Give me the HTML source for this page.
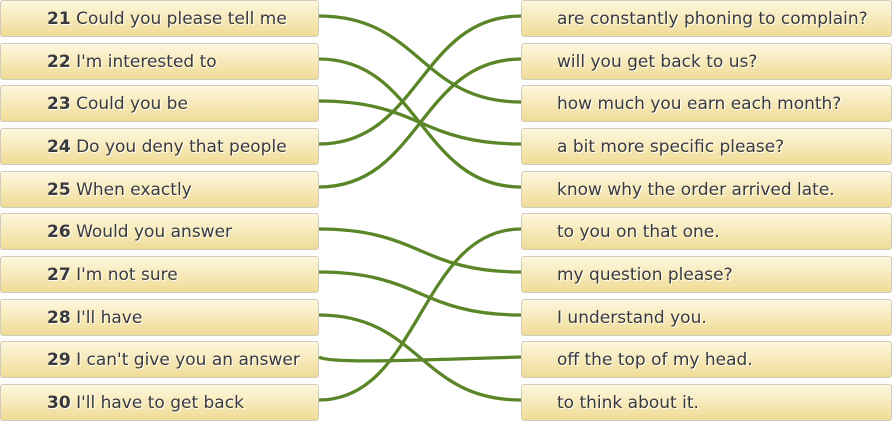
<!DOCTYPE html>
<html><head><style>
body{margin:0;width:893px;height:425px;background:#fff;position:relative;overflow:hidden;font-family:"DejaVu Sans","Liberation Sans",sans-serif;}
.b{position:absolute;height:37px;box-sizing:border-box;border:1px solid #cfcbbd;border-radius:3px;background:linear-gradient(#fdf7dd,#f0dc96);color:#3a3a3a;font-size:17px;line-height:37px;text-shadow:1px 1px 0 #fff;}
.l{left:0;width:319px;padding-left:46px}
.r{left:521px;width:371px;padding-left:35px}
b{font-weight:bold}
svg{position:absolute;left:0;top:0}
</style></head><body>
<div class="b l" style="top:0px"><b>21</b> Could you please tell me</div>
<div class="b l" style="top:43px"><b>22</b> I'm interested to</div>
<div class="b l" style="top:85px"><b>23</b> Could you be</div>
<div class="b l" style="top:128px"><b>24</b> Do you deny that people</div>
<div class="b l" style="top:171px"><b>25</b> When exactly</div>
<div class="b l" style="top:213px"><b>26</b> Would you answer</div>
<div class="b l" style="top:256px"><b>27</b> I'm not sure</div>
<div class="b l" style="top:299px"><b>28</b> I'll have</div>
<div class="b l" style="top:341px"><b>29</b> I can't give you an answer</div>
<div class="b l" style="top:384px"><b>30</b> I'll have to get back</div>
<div class="b r" style="top:0px">are constantly phoning to complain?</div>
<div class="b r" style="top:43px">will you get back to us?</div>
<div class="b r" style="top:85px">how much you earn each month?</div>
<div class="b r" style="top:128px">a bit more specific please?</div>
<div class="b r" style="top:171px">know why the order arrived late.</div>
<div class="b r" style="top:213px">to you on that one.</div>
<div class="b r" style="top:256px">my question please?</div>
<div class="b r" style="top:299px">I understand you.</div>
<div class="b r" style="top:341px">off the top of my head.</div>
<div class="b r" style="top:384px">to think about it.</div>
<svg width="893" height="425" fill="none" stroke="#5a8628" stroke-width="3.3">
<path d="M319 16 C420 16,420 102,521 102"/>
<path d="M319 59 C420 59,420 187,521 187"/>
<path d="M319 101 C420 101,420 144,521 144"/>
<path d="M319 144 C420 144,420 16,521 16"/>
<path d="M319 187 C420 187,420 59,521 59"/>
<path d="M319 229 C420 229,420 272,521 272"/>
<path d="M319 272 C420 272,420 315,521 315"/>
<path d="M319 315 C420 315,420 400,521 400"/>
<path d="M319 357 C330 364,420 360,521 357"/>
<path d="M319 400 C420 400,420 229,521 229"/>
</svg>
</body></html>
